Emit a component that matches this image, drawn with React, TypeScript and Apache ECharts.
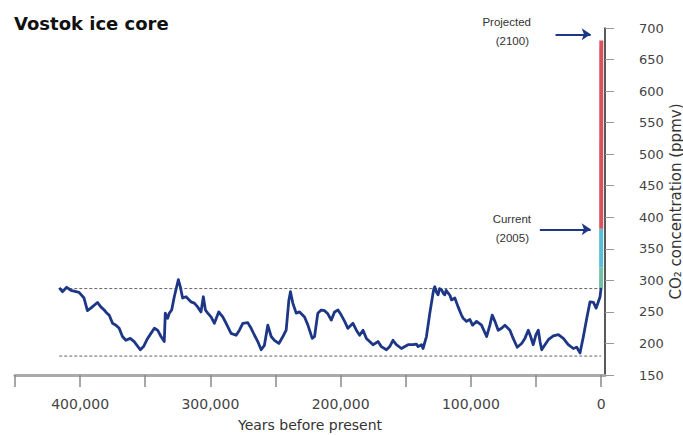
import React, { useEffect, useRef } from "react";
import * as echarts from "echarts";

// Vostok ice-core CO2 record: [years before present, ppmv]
const vostokYears = [
  416000, 413600, 410300, 407000, 400800, 397000, 394400, 391800, 386700, 384100,
  381500, 379500, 377700, 375100, 372500, 370000, 367500, 364900, 361500, 358500,
  353800, 351300, 348200, 345600, 343000, 340500, 337900, 335400, 334600, 332800,
  331500, 329700, 327700, 324600, 323100, 321300, 318700, 314900, 312300, 309800,
  307200, 305400, 303800, 302000, 299500, 296900, 293600, 290500, 287900, 284100,
  280200, 277700, 275100, 271300, 268700, 266100, 263600, 261000, 258500, 255900,
  253300, 250800, 247400, 244300, 241800, 239700, 238500, 236700, 234100, 231500,
  227700, 225100, 221800, 220000, 217500, 214900, 212300, 209800, 207200, 204600,
  202000, 199500, 196900, 194400, 190500, 187900, 185400, 182800, 180200, 177700,
  175100, 171300, 168700, 164800, 162300, 159800, 157200, 153300, 148200, 144400,
  141800, 140500, 137900, 136700, 134100, 131500, 129000, 128500, 127700, 126500,
  125200, 124000, 122500, 121000, 120000, 119000, 117500, 116000, 114800, 112300,
  109800, 107200, 105900, 103300, 100800, 98700, 95600, 91800, 87900, 85400,
  83600, 81500, 79000, 76400, 73800, 70000, 67500, 64400, 61000, 58500,
  55900, 54100, 52100, 50000, 48200, 46900, 45600, 43100, 40500, 36700,
  32800, 29000, 25200, 21300, 18700, 16200, 13600, 11000, 8500, 5900,
  3800, 2100, 800, 0,
];
const vostokPpmv = [
  288, 282, 289, 284, 281, 272, 252, 256, 265, 258,
  253, 248, 245, 232, 229, 224, 211, 205, 208, 203,
  190, 195, 208, 216, 224, 221, 211, 203, 248, 240,
  248, 253, 274, 301, 290, 272, 274, 266, 264, 258,
  250, 274, 253, 248, 242, 232, 250, 242, 232, 216,
  213, 221, 232, 233, 224, 213, 203, 190, 197, 229,
  211, 205, 200, 211, 221, 269, 282, 264, 248, 250,
  242, 229, 208, 211, 248, 253, 252, 247, 237, 250,
  253, 245, 235, 224, 232, 221, 213, 221, 208, 203,
  198, 203, 195, 190, 195, 205, 198, 192, 198, 198,
  199, 195, 198, 192, 211, 248, 280, 286, 290, 282,
  277, 287, 285, 279, 277, 284, 280, 276, 269, 272,
  258, 245, 240, 235, 238, 229, 235, 229, 211, 229,
  245, 235, 221, 224, 229, 221, 208, 194, 200, 208,
  221, 211, 198, 214, 221, 203, 190, 198, 206, 212,
  214, 208, 198, 192, 194, 185, 211, 240, 266, 265,
  256, 266, 274, 288,
];

// Modern rise: pre-industrial -> 2005 -> projected 2100
const recentYears = [0, -15, -55];
const recentPpmv = [288, 320, 382];
const projectedYears = [-55, -150];
const projectedPpmv = [382, 680];

// Glacial / interglacial reference levels
const rangeLevels = [287, 180];
const rangeSpan = [416000, 0];

// Arrow annotations: label lines, arrow start/end (years), ppmv level
const arrowNotes = [
  { lines: ["Projected", "(2100)"], from: 35000, to: 8000, level: 690 },
  { lines: ["Current", "(2005)"], from: 47000, to: 8000, level: 381 },
];

const tickValues = [450000, 400000, 350000, 300000, 250000, 200000, 150000, 100000, 50000, 0];
const labelValues = [400000, 300000, 200000, 100000, 0];

const NAVY = "#1d3786";
const FONT = "DejaVu Sans";
const NOTE_FONT = "Liberation Sans";

export default function App() {
  const ref = useRef<HTMLDivElement>(null);

  useEffect(() => {
    if (!ref.current) return;
    const chart = echarts.init(ref.current, null, { renderer: "svg" });

    const pairs = (xs: number[], ys: number[]) => xs.map((x, i) => [x, ys[i]]);

    const rangeSeries = rangeLevels.map((lv) => ({
      type: "line",
      data: rangeSpan.map((x) => [x, lv]),
      symbol: "none",
      silent: true,
      lineStyle: { color: "#666", width: 1, type: [3, 2] },
      z: 1,
    }));

    const arrowSeries = {
      type: "line",
      data: [],
      symbol: "none",
      markLine: {
        silent: true,
        symbol: ["none", "arrow"],
        symbolSize: [9, 9],
        label: { show: false },
        lineStyle: { color: NAVY, width: 2, type: "solid" },
        data: arrowNotes.map((a) => [
          { coord: [a.from, a.level] },
          { coord: [a.to, a.level] },
        ]),
      },
    };

    const noteTexts: any[] = [];
    arrowNotes.forEach((a, idx) => {
      const baseY = idx === 0 ? 22 : 219;
      a.lines.forEach((ln, j) => {
        noteTexts.push({
          type: "text",
          x: 531 - j * 2,
          y: baseY + j * 19,
          style: {
            text: ln,
            align: "right",
            verticalAlign: "middle",
            fontFamily: NOTE_FONT,
            fontSize: 11.5,
            fill: "#333",
          },
        });
      });
    });

    chart.setOption({
      animation: false,
      backgroundColor: "#fff",
      grid: {
        left: 15,
        right: 78,
        top: 28,
        bottom: 60,
        containLabel: false,
        outerBoundsMode: "none",
      },
      xAxis: {
        type: "value",
        inverse: true,
        min: -3000,
        max: 450000,
        name: "Years before present",
        nameLocation: "middle",
        nameGap: 43,
        nameMoveOverlap: false,
        nameTextStyle: { fontFamily: FONT, fontSize: 14, color: "#333" },
        axisLine: { show: true, onZero: false, lineStyle: { color: "#aaa", width: 3 } },
        axisTick: {
          show: true,
          customValues: tickValues,
          length: 12,
          lineStyle: { color: "#888", width: 1.5 },
        },
        axisLabel: {
          customValues: labelValues,
          margin: 22,
          fontFamily: FONT,
          fontSize: 14,
          color: "#444",
          formatter: (v: number) => v.toLocaleString("en-US"),
        },
        splitLine: { show: false },
      },
      yAxis: {
        type: "value",
        position: "right",
        min: 150,
        max: 700,
        interval: 50,
        name: "CO\u2082 concentration (ppmv)",
        nameLocation: "middle",
        nameRotate: 90,
        nameGap: 63,
        nameMoveOverlap: false,
        nameTextStyle: { fontFamily: FONT, fontSize: 15, color: "#333" },
        axisLine: { show: true, onZero: false, lineStyle: { color: "#222", width: 1.5 } },
        axisTick: { show: true, length: 9, lineStyle: { color: "#999", width: 1 } },
        axisLabel: { margin: 34, fontFamily: FONT, fontSize: 13, color: "#444" },
        splitLine: { show: false },
      },
      graphic: [
        {
          type: "text",
          x: 14,
          y: 23,
          style: {
            text: "Vostok ice core",
            verticalAlign: "middle",
            fontFamily: FONT,
            fontWeight: "bold",
            fontSize: 18,
            fill: "#111",
          },
        },
        ...noteTexts,
      ],
      series: [
        ...rangeSeries,
        {
          type: "line",
          data: pairs(vostokYears, vostokPpmv),
          symbol: "none",
          lineStyle: { color: NAVY, width: 2.8, join: "round" },
          z: 3,
        },
        {
          type: "line",
          data: pairs(recentYears.slice(0, 2), recentPpmv.slice(0, 2)),
          symbol: "none",
          clip: false,
          lineStyle: { color: "#74c2a6", width: 4 },
          z: 2,
        },
        {
          type: "line",
          data: pairs(recentYears.slice(1), recentPpmv.slice(1)),
          symbol: "none",
          clip: false,
          lineStyle: { color: "#58bfd6", width: 4 },
          z: 2,
        },
        {
          type: "line",
          data: pairs(projectedYears, projectedPpmv),
          symbol: "none",
          clip: false,
          lineStyle: { color: "#d9535f", width: 4 },
          z: 2,
        },
        arrowSeries,
      ],
    });

    return () => chart.dispose();
  }, []);

  return (
    <div
      ref={ref}
      style={{ position: "fixed", left: 0, top: 0, width: 683, height: 435, background: "#fff" }}
    />
  );
}
